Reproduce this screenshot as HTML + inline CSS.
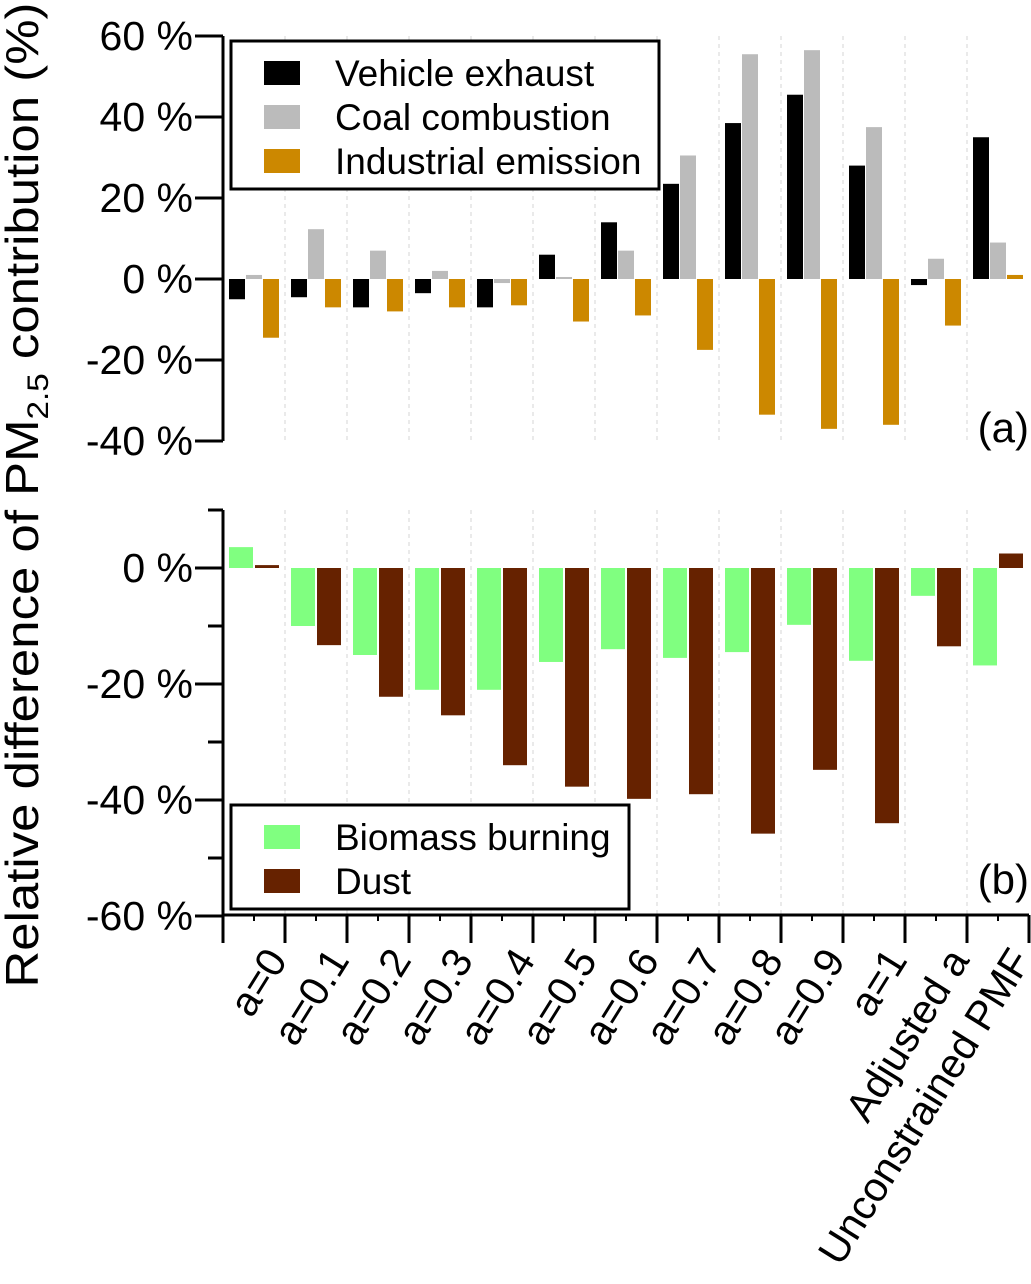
<!DOCTYPE html>
<html><head><meta charset="utf-8"><style>
html,body{margin:0;padding:0;background:#fff;}
svg{display:block;font-family:"Liberation Sans",sans-serif;}
</style></head><body>
<svg id="chart" width="1031" height="1284" viewBox="0 0 1031 1284" xmlns="http://www.w3.org/2000/svg">
<text transform="translate(38,495) rotate(-90)" text-anchor="middle" font-size="46" textLength="985" lengthAdjust="spacingAndGlyphs">Relative difference of PM<tspan font-size="30" dy="10">2.5</tspan><tspan dy="-10"> contribution (%)</tspan></text>
<g id="panelA"></g>
<g id="panelB"></g>
<g id="xaxis"></g>
</svg>
<script>
const categories = ["a=0","a=0.1","a=0.2","a=0.3","a=0.4","a=0.5","a=0.6","a=0.7","a=0.8","a=0.9","a=1","Adjusted a","Unconstrained PMF"];
const vehicleExhaust = [-5,-4.5,-7,-3.5,-7,6,14,23.5,38.5,45.5,28,-1.5,35];
const coalCombustion = [1,12.3,7,2,-1,0.5,7,30.5,55.5,56.5,37.5,5,9];
const industrialEmission = [-14.5,-7,-8,-7,-6.5,-10.5,-9,-17.5,-33.5,-37,-36,-11.5,1];
const biomassBurning = [3.6,-10,-15,-21,-21,-16.2,-14,-15.5,-14.5,-9.8,-16,-4.8,-16.8];
const dust = [0.5,-13.3,-22.2,-25.4,-34,-37.7,-39.8,-39,-45.8,-34.8,-44,-13.5,2.5];
const ticksA = [60,40,20,0,-20,-40];
const ticksB = [0,-20,-40,-60];
const ticksBMinor = [10,-10,-30,-50];

const NS="http://www.w3.org/2000/svg";
function mk(parent,tag,attrs,text){const e=document.createElementNS(NS,tag);for(const k in attrs)e.setAttribute(k,attrs[k]);if(text!==undefined)e.textContent=text;parent.appendChild(e);return e;}
const X0=223, CW=62;
const xCat = i => X0 + i*CW;
const yA = v => 279 - v*4.05;
const yB = v => 568 - v*5.8;
const gA=document.getElementById('panelA'), gB=document.getElementById('panelB'), gX=document.getElementById('xaxis');

for(let i=1;i<categories.length;i++){
  const l1=mk(gA,'line',{x1:xCat(i),x2:xCat(i),y1:36,y2:441,stroke:'#ddd','stroke-width':1.2,'stroke-dasharray':'4,4'});
  
  
  const l2=mk(gB,'line',{x1:xCat(i),x2:xCat(i),y1:510,y2:915,stroke:'#ddd','stroke-width':1.2,'stroke-dasharray':'4,4'});
  
  
}
function bar(g,x,w,y0,y1,fill,name){
  const r=mk(g,'rect',{x:x,y:Math.min(y0,y1),width:w,height:Math.max(1,Math.abs(y1-y0)),fill:fill});
  
  
}
const seriesA=[[vehicleExhaust,'#000','bar-vehicle-exhaust'],[coalCombustion,'#bbb','bar-coal-combustion'],[industrialEmission,'#cc8800','bar-industrial-emission']];
categories.forEach((c,i)=>{
  seriesA.forEach((s,j)=>bar(gA,xCat(i)+6+j*17,16,yA(0),yA(s[0][i]),s[1],s[2]));
  bar(gB,xCat(i)+6,24,yB(0),yB(biomassBurning[i]),'#80ff80','bar-biomass-burning');
  bar(gB,xCat(i)+32,24,yB(0),yB(dust[i]),'#662200','bar-dust');
});
let ax=mk(gA,'line',{x1:X0,x2:X0,y1:yA(60),y2:yA(-40),stroke:'#000','stroke-width':3});


ticksA.forEach(t=>{
  mk(gA,'line',{x1:195,x2:X0,y1:yA(t),y2:yA(t),stroke:'#000','stroke-width':3});
  const tx=mk(gA,'text',{x:193,y:yA(t)+14,'text-anchor':'end','font-size':41},t+' %');
  
  
});
ax=mk(gB,'line',{x1:X0,x2:X0,y1:yB(10),y2:yB(-60),stroke:'#000','stroke-width':3});


ticksB.forEach(t=>{
  mk(gB,'line',{x1:195,x2:X0,y1:yB(t),y2:yB(t),stroke:'#000','stroke-width':3});
  const tx=mk(gB,'text',{x:193,y:yB(t)+14,'text-anchor':'end','font-size':41},t+' %');
  
  
});
ticksBMinor.forEach(t=>mk(gB,'line',{x1:208,x2:X0,y1:yB(t),y2:yB(t),stroke:'#000','stroke-width':3}));
ax=mk(gX,'line',{x1:X0,x2:xCat(categories.length),y1:915,y2:915,stroke:'#000','stroke-width':3});


for(let i=0;i<=categories.length;i++){
  mk(gX,'line',{x1:xCat(i),x2:xCat(i),y1:915,y2:943,stroke:'#000','stroke-width':3});
  if(i<categories.length) mk(gX,'line',{x1:xCat(i)+31,x2:xCat(i)+31,y1:915,y2:921,stroke:'#000','stroke-width':2});
}
categories.forEach((c,i)=>{
  const cx=xCat(i)+31+10, cy=945;
  const t=mk(gX,'text',{x:cx,y:cy,'text-anchor':'end','font-size':41,transform:`rotate(-58 ${cx} ${cy})`,dy:'0.7em'},c);
  
  
});
let pl=mk(gA,'text',{x:1029,y:442,'text-anchor':'end','font-size':42},'(a)');


pl=mk(gB,'text',{x:1029,y:894,'text-anchor':'end','font-size':42},'(b)');


function legend(g,x,y,w,h,items,name){
  const lg=mk(g,'g',{});
  
  
  mk(lg,'rect',{x:x,y:y,width:w,height:h,fill:'#fff',stroke:'#000','stroke-width':3});
  items.forEach((it,k)=>{
    const e=mk(lg,'g',{});
    
    
    mk(e,'rect',{x:x+33,y:y+20+k*44,width:36,height:24,fill:it[1]});
    mk(e,'text',{x:x+104,y:y+45+k*44,'font-size':37},it[0]);
  });
}
legend(gA,231,41,428,148,[['Vehicle exhaust','#000'],['Coal combustion','#bbb'],['Industrial emission','#cc8800']],'legend-a');
legend(gB,231,805,398,104,[['Biomass burning','#80ff80'],['Dust','#662200']],'legend-b');
</script>
</body></html>
